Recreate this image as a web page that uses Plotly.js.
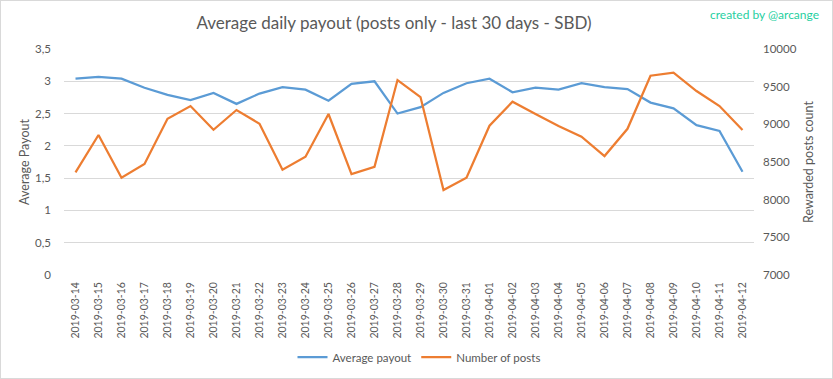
<!DOCTYPE html>
<html><head><meta charset="utf-8">
<script src="https://cdn.plot.ly/plotly-3.0.1.min.js"></script>
<style>html,body{margin:0;padding:0;background:#fff;}#chart{width:831px;height:377px;border:1px solid #d9d9d9;}</style>
</head><body><div id="chart"></div>
<script>
const dates = ["2019-03-14","2019-03-15","2019-03-16","2019-03-17","2019-03-18","2019-03-19","2019-03-20","2019-03-21","2019-03-22","2019-03-23","2019-03-24","2019-03-25","2019-03-26","2019-03-27","2019-03-28","2019-03-29","2019-03-30","2019-03-31","2019-04-01","2019-04-02","2019-04-03","2019-04-04","2019-04-05","2019-04-06","2019-04-07","2019-04-08","2019-04-09","2019-04-10","2019-04-11","2019-04-12"];
const avgPayout = [3.04,3.07,3.04,2.90,2.79,2.71,2.82,2.65,2.81,2.91,2.87,2.70,2.96,3.00,2.50,2.60,2.82,2.97,3.04,2.83,2.90,2.87,2.97,2.91,2.88,2.67,2.58,2.32,2.23,1.60];
const numPosts = [8363,8858,8291,8473,9074,9243,8928,9190,9008,8397,8570,9137,8340,8437,9588,9362,8128,8291,8981,9300,9137,8977,8835,8579,8941,9645,9685,9442,9243,8924];
const leftTickVals = [0,0.5,1,1.5,2,2.5,3,3.5];
const leftTickText = ["0","0,5","1","1,5","2","2,5","3","3,5"];
const rightTickVals = [7000,7500,8000,8500,9000,9500,10000];
const rightTickText = ["7000","7500","8000","8500","9000","9500","10000"];

const FONT = 'Lato, "Open Sans", sans-serif';
const GREY = '#595959';

const traces = [
  {x: dates, y: avgPayout, type: 'scatter', mode: 'lines', name: 'Average payout',
   line: {color: '#5B9BD5', width: 2.25}, yaxis: 'y'},
  {x: dates, y: numPosts, type: 'scatter', mode: 'lines', name: 'Number of posts',
   line: {color: '#ED7D31', width: 2.25}, yaxis: 'y2'}
];

const layout = {
  width: 831, height: 377,
  margin: {l: 63, r: 78, t: 48, b: 103, autoexpand: false},
  paper_bgcolor: '#fff', plot_bgcolor: '#fff',
  font: {family: FONT, color: GREY, size: 11},
  title: {text: 'Average daily payout (posts only - last 30 days - SBD)', x: 393/831, xanchor: 'center', y: 1 - 22/377, yanchor: 'middle',
          font: {family: FONT, size: 17, color: GREY}},
  showlegend: true,
  legend: {orientation: 'h', x: (419 - 64)/690, xanchor: 'center', y: -(357 - 275)/226, yanchor: 'middle',
           font: {family: FONT, size: 11.5, color: GREY}, itemwidth: 30},
  xaxis: {type: 'category', range: [-0.5, 29.5], tickangle: -90, showgrid: false, zeroline: false, showline: false, automargin: false,
          ticks: '', ticklabelstandoff: 4, tickfont: {family: FONT, size: 10.5, color: GREY}, fixedrange: true},
  yaxis: {range: [0, 3.5], tickvals: leftTickVals, ticktext: leftTickText, showgrid: true, gridcolor: '#d9d9d9', gridwidth: 1, automargin: false,
          zeroline: false, showline: false, ticks: '', ticklabelstandoff: 12, tickfont: {family: FONT, size: 11.5, color: GREY},
          title: {text: 'Average Payout', font: {family: FONT, size: 12.5, color: GREY}, standoff: 2}},
  yaxis2: {range: [7000, 10000], overlaying: 'y', side: 'right', tickvals: rightTickVals, ticktext: rightTickText, automargin: false,
           showgrid: false, zeroline: false, showline: false, ticks: '', ticklabelstandoff: 8, tickfont: {family: FONT, size: 11.5, color: GREY},
           title: {text: 'Rewarded posts count', font: {family: FONT, size: 12.5, color: GREY}, standoff: 8}},
  annotations: [{text: 'created by @arcange', xref: 'paper', yref: 'paper', x: (820 - 63)/690, y: (275 - 14)/226, xanchor: 'right', yanchor: 'middle',
                 showarrow: false, font: {family: FONT, size: 12, color: '#1fcf9f'}}]
};
Plotly.newPlot('chart', traces, layout, {displayModeBar: false, staticPlot: true});
</script></body></html>
